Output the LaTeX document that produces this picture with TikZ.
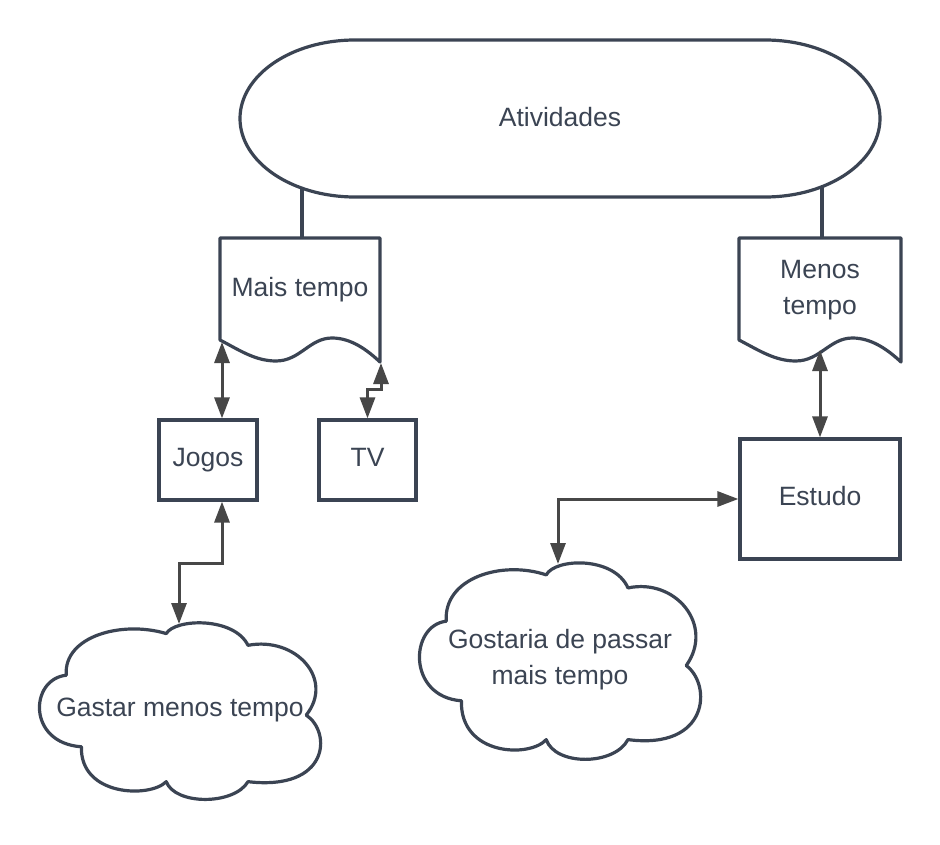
\documentclass[tikz,border=0pt]{standalone}
\usepackage{fontspec}
\setmainfont{Liberation Sans}
\usetikzlibrary{arrows.meta,calc}
\definecolor{ink}{HTML}{3B4453}
\definecolor{arrowgray}{HTML}{474747}
\tikzset{
  shapeline/.style={draw=ink, line width=3.2pt, fill=white, line join=round},
  boxtext/.style={text=ink, font=\fontsize{26.5}{36}\selectfont, align=center, inner sep=0pt},
  oneline/.style={boxtext, text height=19pt, text depth=5.6pt},
  boxnode/.style={oneline, draw=ink, line width=3.2pt, fill=white, inner sep=0pt},
  arr/.style={draw=arrowgray, line width=3pt, {Triangle[width=15pt,length=21pt]}-{Triangle[width=15pt,length=21pt]}},
  link/.style={draw=ink, line width=3.2pt},
}
\newcommand\cloudshape[4]{%
  \begin{scope}[shift={(#1,#2)}, x=#3pt, y=-#4pt]
    \path[shapeline] (0.458,0.065) .. controls (0.49,-0.02) and (0.70,-0.03) .. (0.75,0.131)
      .. controls (0.92,0.08) and (1.06,0.32) .. (0.958,0.523)
      .. controls (1.05,0.62) and (1.04,0.95) .. (0.75,0.897)
      .. controls (0.70,1.03) and (0.49,1.03) .. (0.458,0.897)
      .. controls (0.40,0.99) and (0.15,0.98) .. (0.155,0.701)
      .. controls (-0.04,0.68) and (-0.03,0.32) .. (0.101,0.299)
      .. controls (0.09,0.08) and (0.30,-0.01) .. cycle;
  \end{scope}}
\newcommand\docshape[3]{%
  \begin{scope}[shift={(#1,#2)}, x=#3pt, y=-1pt]
    \path[shapeline] (0,0) -- (1,0) -- (1,124)
      .. controls (0.92,112) and (0.82,100) .. (0.70,100)
      .. controls (0.56,100) and (0.50,123) .. (0.35,123)
      .. controls (0.22,123) and (0.12,112) .. (0,102) -- cycle;
  \end{scope}}
\begin{document}
\begin{tikzpicture}[x=1pt,y=-1pt]
\useasboundingbox (0,0) rectangle (940,845);
\fill[white] (0,0) rectangle (940,845);

% links from the terminator
\coordinate (atL) at (302,150);
\coordinate (atR) at (822,150);
\coordinate (maisT) at (302,238);
\coordinate (menosT) at (822,238);
\draw[link] (atL) -- (maisT);
\draw[link] (atR) -- (menosT);

% terminator
\path[shapeline] (355,40) -- (765,40)
  arc[start angle=90, end angle=-90, x radius=115pt, y radius=78.5pt]
  -- (355,197)
  arc[start angle=270, end angle=90, x radius=115pt, y radius=78.5pt] -- cycle;
\node[oneline] (ativ) at (560,120) {Atividades};

% documents
\docshape{220}{238}{160}
\node[oneline] (mais) at (300,289.5) {Mais tempo};
\docshape{739}{238}{162}
\node[boxtext] (menos) at (820,290) {Menos\\tempo};

% boxes
\node[boxnode, minimum width=98pt, minimum height=80pt] (jogos) at (208,460) {Jogos};
\node[boxnode, minimum width=97pt, minimum height=80pt] (tv) at (367.5,460) {TV};
\node[boxnode, minimum width=160pt, minimum height=120pt] (estudo) at (820,499) {Estudo};

% clouds
\cloudshape{38}{622}{280}{178}
\node[oneline] (gastar) at (180,710) {Gastar menos tempo};
\cloudshape{418}{562}{280}{198}
\node[boxtext] (gostaria) at (560,660) {Gostaria de passar\\mais tempo};

% connector end points on the wavy edges and cloud tops
\coordinate (maisW) at (222,342);
\coordinate (maisE) at (381,363);
\coordinate (menosW) at (820,350);
\coordinate (gastarTop) at (179,624);
\coordinate (gostariaTop) at (558,564);

% arrows
\draw[arr] (maisW) -- ([xshift=14pt]jogos.north);
\draw[arr] (maisE) -- ++(0,26) -| (tv.north);
\draw[arr] (menosW) -- (estudo.north);
\draw[arr] ([xshift=14pt]jogos.south) -- ++(0,62) -| (gastarTop);
\draw[arr] (estudo.west) -| (gostariaTop);
\end{tikzpicture}
\end{document}
